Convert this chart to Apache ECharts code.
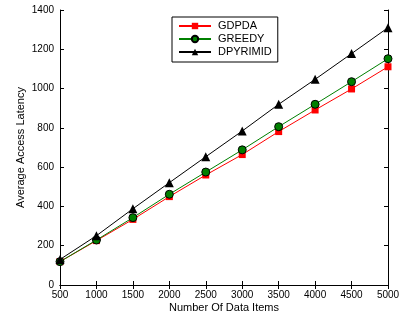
<!DOCTYPE html>
<html>
<head>
<meta charset="utf-8">
<script src="https://cdn.jsdelivr.net/npm/echarts@6/dist/echarts.min.js"></script>
<style>
  html, body { margin: 0; padding: 0; background: #fff; }
  #chart { width: 406px; height: 320px; }
</style>
</head>
<body>
<div id="chart"></div>
<script>
// data
const items = [500, 1000, 1500, 2000, 2500, 3000, 3500, 4000, 4500, 5000]
const gdpda = [119, 226, 334, 450, 560, 664, 781, 891, 998, 1111]
const greedy = [119, 229, 343, 462, 575, 688, 806, 920, 1035, 1152]
const dpyrimid = [130, 251, 388, 521, 653, 784, 920, 1047, 1178, 1310]

const font = 'Liberation Sans, Arial, sans-serif'

const pairs = (ys) => items.map((x, i) => [x, ys[i]])
const plain = (v) => String(v)

const chart = echarts.init(document.getElementById('chart'), null, { renderer: 'canvas' })

const tickIn = { show: true, inside: true, length: 4, lineStyle: { color: '#000', width: 1 } }

const option = {
  animation: false,
  backgroundColor: '#fff',
  grid: { left: 60, right: 18, top: 10, bottom: 35 },
  legend: {
    orient: 'vertical',
    left: 172,
    top: 17,
    padding: [3, 6, 4, 6],
    itemGap: 1,
    itemWidth: 32,
    itemHeight: 8,
    borderColor: '#000',
    borderWidth: 1,
    backgroundColor: '#fff',
    textStyle: { fontFamily: font, fontSize: 11, lineHeight: 12, color: '#000', padding: [0, 0, 0, 2] },
    data: ['GDPDA', 'GREEDY', 'DPYRIMID']
  },
  xAxis: [
    {
      type: 'value',
      min: 500,
      max: 5000,
      interval: 500,
      name: 'Number Of Data Items',
      nameLocation: 'middle',
      nameGap: 17,
      nameMoveOverlap: false,
      nameTextStyle: { fontFamily: font, fontSize: 11, color: '#000' },
      axisLine: { show: true, lineStyle: { color: '#000', width: 1 } },
      axisTick: tickIn,
      axisLabel: { fontFamily: font, fontSize: 10, color: '#000', margin: 5, formatter: plain },
      splitLine: { show: false }
    },
    {
      type: 'value',
      position: 'top',
      min: 500,
      max: 5000,
      interval: 500,
      axisLine: { show: true, lineStyle: { color: '#000', width: 1 } },
      axisTick: tickIn,
      axisLabel: { show: false },
      splitLine: { show: false }
    }
  ],
  yAxis: [
    {
      type: 'value',
      min: 0,
      max: 1400,
      interval: 200,
      name: 'Average Access Latency',
      nameLocation: 'middle',
      nameGap: 34,
      nameMoveOverlap: false,
      nameTextStyle: { fontFamily: font, fontSize: 11, color: '#000' },
      axisLine: { show: true, lineStyle: { color: '#000', width: 1 } },
      axisTick: tickIn,
      axisLabel: { fontFamily: font, fontSize: 10, color: '#000', margin: 6, formatter: plain },
      splitLine: { show: false }
    },
    {
      type: 'value',
      position: 'right',
      min: 0,
      max: 1400,
      interval: 200,
      axisLine: { show: true, lineStyle: { color: '#000', width: 1 } },
      axisTick: tickIn,
      axisLabel: { show: false },
      splitLine: { show: false }
    }
  ],
  series: [
    {
      name: 'GDPDA',
      type: 'line',
      data: pairs(gdpda),
      symbol: 'rect',
      symbolSize: 7,
      lineStyle: { color: '#ff0000', width: 1 },
      itemStyle: { color: '#ff0000' }
    },
    {
      name: 'GREEDY',
      type: 'line',
      data: pairs(greedy),
      symbol: 'circle',
      symbolSize: 8,
      lineStyle: { color: '#008000', width: 1 },
      itemStyle: { color: '#008000', borderColor: '#000', borderWidth: 1 }
    },
    {
      name: 'DPYRIMID',
      type: 'line',
      data: pairs(dpyrimid),
      symbol: 'triangle',
      symbolSize: 9,
      lineStyle: { color: '#000', width: 1 },
      itemStyle: { color: '#000' }
    }
  ]
}

chart.setOption(option)
</script>
</body>
</html>
